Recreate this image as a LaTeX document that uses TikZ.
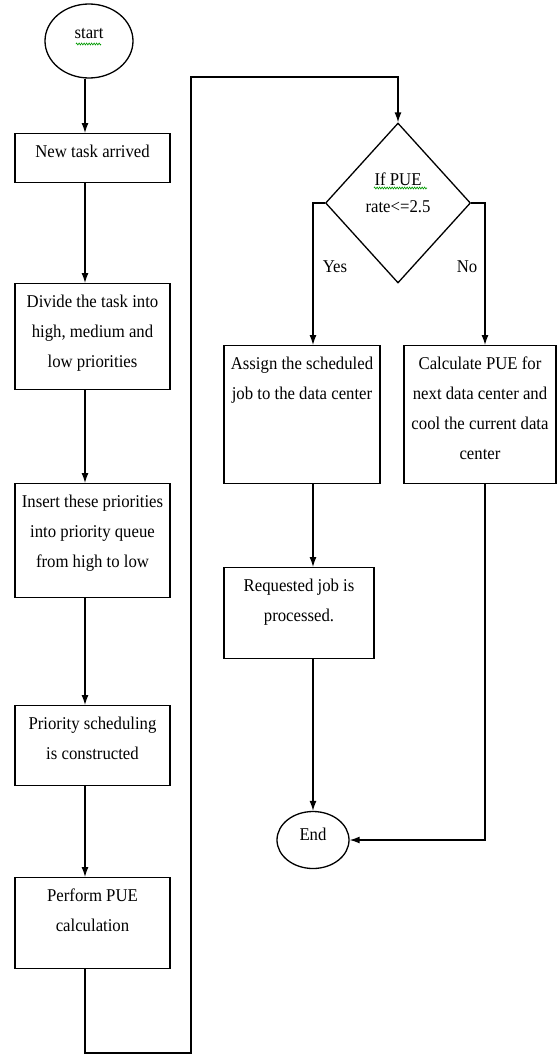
\documentclass[tikz,border=0pt]{standalone}
\usepackage{fontspec}
\setmainfont{Liberation Serif}[FakeStretch=0.93]
\usetikzlibrary{arrows.meta,positioning,calc,shapes.geometric,decorations.pathmorphing}
\newcommand{\boxtext}[3]{\parbox[c][#2][t]{#1}{\centering\rule{0pt}{24pt}#3}}

\begin{document}
\begin{tikzpicture}[x=1pt, y=-1pt,
    box/.style={draw, line width=1.3pt, inner sep=0pt, anchor=north, font=\fontsize{18}{30}\selectfont},
    term/.style={draw, ellipse, line width=1.3pt, inner sep=0pt, font=\fontsize{18}{22}\selectfont},
    arr/.style={line width=1.3pt, -{Latex[length=10pt,width=7pt]}},
    spell/.style={green!60!black, line width=0.6pt, decorate, decoration={zigzag, segment length=2.5pt, amplitude=1pt}}]
    \useasboundingbox (0,0) rectangle (557,1055);

    % Terminals
    \node[term, minimum width=88pt, minimum height=74pt] (start) at (89,41) {\raisebox{3pt}[0pt][0pt]{start}};
    \node[term, minimum width=72pt, minimum height=57pt] (end) at (313,840) {\raisebox{0pt}[0pt][0pt]{End}};

    % Left column
    \coordinate (lcol) at (85,0);
    \node[box] (newtask) at (92.5,133) {\boxtext{155pt}{49pt}{New task arrived}};
    \node[box] (divide) at (92.5,283) {\boxtext{155pt}{106pt}{Divide the task into\\high, medium and\\low priorities}};
    \node[box] (insert) at (92.5,483) {\boxtext{155pt}{114pt}{Insert these priorities\\into priority queue\\from high to low}};
    \node[box] (prio) at (92.5,705) {\boxtext{155pt}{80pt}{Priority scheduling\\is constructed}};
    \node[box] (perform) at (92.5,877) {\boxtext{155pt}{91pt}{Perform PUE\\calculation}};

    % Decision
    \node[draw, diamond, line width=1.3pt, inner sep=0pt, minimum width=145pt, minimum height=160pt,
        font=\fontsize{18}{27}\selectfont] (decision) at (398,203)
        {\raisebox{5pt}[0pt][0pt]{\begin{tabular}{@{}c@{}}If PUE\\rate<=2.5\end{tabular}}};
    \node[font=\fontsize{18}{22}\selectfont] (yes) at (335,267) {Yes};
    \node[font=\fontsize{18}{22}\selectfont] (no) at (467,267) {No};

    % Right columns
    \coordinate (ycol) at (313,0);
    \coordinate (ncol) at (485,0);
    \node[box] (assign) at (302,345) {\boxtext{156pt}{138pt}{Assign the scheduled\\job to the data center}};
    \node[box] (calcpue) at (480,345) {\boxtext{152pt}{138pt}{Calculate PUE for\\next data center and\\cool the current data\\center}};
    \node[box] (requested) at (299,567) {\boxtext{150pt}{91pt}{Requested job is\\processed.}};

    % Spelling marks
    \draw[spell] (76,44) -- (101,44);
    \draw[spell] (374,188) -- (427,188);

    % Main flow
    \draw[arr] (lcol |- start.south) -- (lcol |- newtask.north);
    \draw[arr] (lcol |- newtask.south) -- (lcol |- divide.north);
    \draw[arr] (lcol |- divide.south) -- (lcol |- insert.north);
    \draw[arr] (lcol |- insert.south) -- (lcol |- prio.north);
    \draw[arr] (lcol |- prio.south) -- (lcol |- perform.north);

    % Loop over to the decision
    \coordinate (loopbot) at (191,1053);
    \coordinate (looptop) at (191,77);
    \draw[arr] (lcol |- perform.south) |- (loopbot) -- (looptop) -| (decision.north);

    % Branches
    \draw[arr] (decision.west) -| (ycol |- assign.north);
    \draw[arr] (decision.east) -| (ncol |- calcpue.north);
    \draw[arr] (ycol |- assign.south) -- (ycol |- requested.north);
    \draw[arr] (ycol |- requested.south) -- (end.north);
    \draw[arr] (ncol |- calcpue.south) |- (end.east);
\end{tikzpicture}
\end{document}
